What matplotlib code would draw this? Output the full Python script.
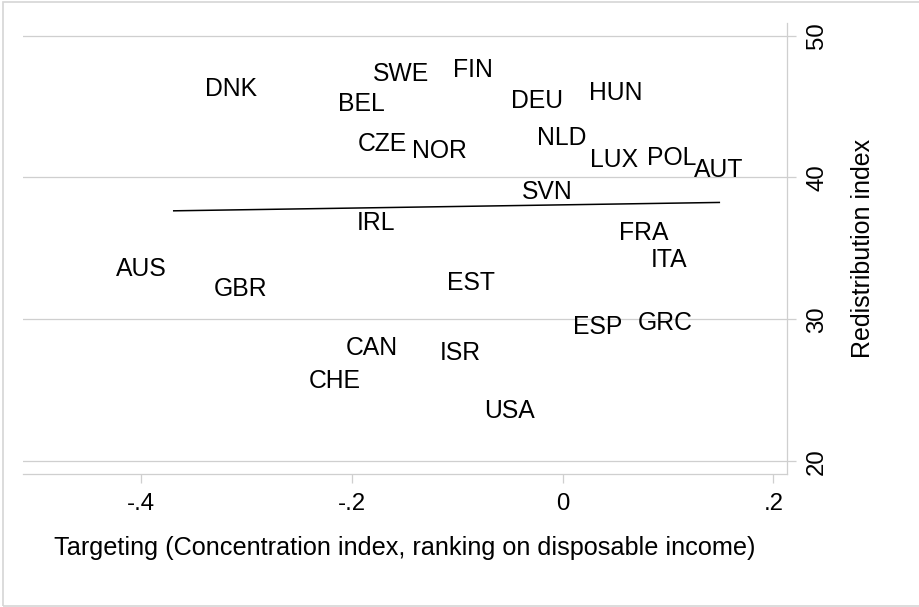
import matplotlib
matplotlib.use("Agg")
import matplotlib.pyplot as plt
from matplotlib.transforms import offset_copy
from matplotlib.patches import Rectangle

# country labels and their coordinates
countries = ["DNK", "SWE", "FIN", "BEL", "DEU", "HUN", "CZE", "NOR", "NLD",
             "LUX", "POL", "AUT", "SVN", "IRL", "FRA", "ITA", "AUS", "GBR",
             "EST", "ESP", "GRC", "CAN", "ISR", "CHE", "USA"]
targeting = [-0.315, -0.153, -0.085, -0.191, -0.024, 0.050, -0.171, -0.117, -0.001,
             0.049, 0.103, 0.148, -0.015, -0.177, 0.077, 0.101, -0.400, -0.306,
             -0.087, 0.033, 0.097, -0.181, -0.097, -0.216, -0.050]
redistribution = [46.4, 47.4, 47.7, 45.3, 45.5, 46.1, 42.5, 42.0, 42.9,
                  41.4, 41.5, 40.7, 39.1, 36.9, 36.2, 34.3, 33.7, 32.3,
                  32.7, 29.6, 29.9, 28.1, 27.8, 25.8, 23.7]

# fitted line endpoints
fit_x = [-0.369, 0.1486]
fit_y = [37.65, 38.24]

xticks = [-0.4, -0.2, 0, 0.2]
xticklabels = ["-.4", "-.2", "0", ".2"]
yticks = [20, 30, 40, 50]

plt.rcParams['font.family'] = ['Liberation Sans', 'DejaVu Sans']
grey = '#cfcfcf'

fig = plt.figure(figsize=(9.19, 6.07), dpi=100)
ax = fig.add_axes([23 / 919, 1 - 474 / 607, (787.3 - 23) / 919, (474 - 23.3) / 607])

ax.plot(fit_x, fit_y, color='black', lw=1.1)

label_tr = offset_copy(ax.transData, fig=fig, y=-6.5, units='points')
for name, x, y in zip(countries, targeting, redistribution):
    ax.text(x, y, name, transform=label_tr, ha='center', va='baseline',
            fontsize=17.8, color='black')

ax.set_xlim(-0.512, 0.2131)
ax.set_ylim(19.11, 50.86)

ax.set_xticks(xticks)
ax.set_xticklabels(xticklabels)
ax.set_yticks(yticks)
ax.yaxis.tick_right()
ax.yaxis.set_label_position('right')
ax.tick_params(axis='x', length=6.5, width=0.9, color=grey, pad=7.5, labelsize=17.3)
ax.tick_params(axis='y', length=6.5, width=0.9, color=grey, pad=7, labelsize=17.3,
               labelrotation=90)
for lab in ax.get_yticklabels():
    lab.set_va('center')

ax.grid(axis='y', color=grey, lw=0.9)
ax.set_axisbelow(True)
for side in ['top', 'left']:
    ax.spines[side].set_visible(False)
for side in ['bottom', 'right']:
    ax.spines[side].set_color(grey)
    ax.spines[side].set_linewidth(0.9)

ax.set_xlabel('Targeting (Concentration index, ranking on disposable income)', fontsize=18.2)
ax.xaxis.set_label_coords(0.5, -0.138)
ax.set_ylabel('Redistribution index', fontsize=18)
ax.yaxis.set_label_coords(1.083, 0.5)

# outer graph region border
fig.patches.append(Rectangle((3 / 919, 1 / 607), 1.0, 604 / 607, transform=fig.transFigure,
                             fill=False, edgecolor='#d6d6d6', lw=1.2))

fig.savefig('out.png', dpi=100)
